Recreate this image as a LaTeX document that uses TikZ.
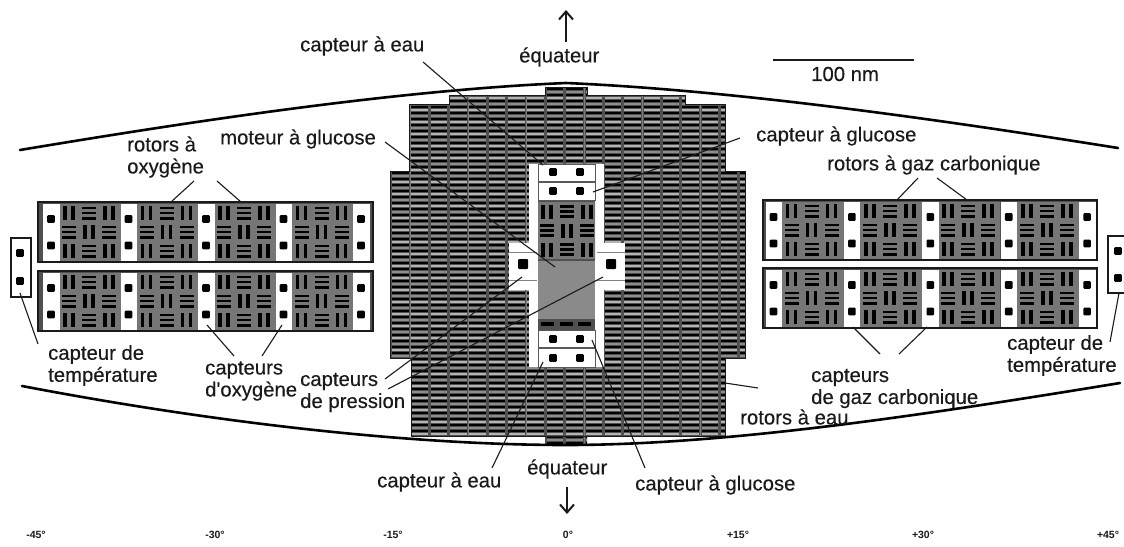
\documentclass[tikz,border=0pt]{standalone}
\usepackage{fontspec}
\setmainfont{Liberation Sans}
\newfontfamily\lblfont{Liberation Sans}[FakeBold=0.25]
\usetikzlibrary{arrows.meta}
\definecolor{ink}{HTML}{1A1A1A}
\definecolor{blockbg}{HTML}{505050}
\definecolor{cellbg}{HTML}{767676}
\definecolor{coreg}{HTML}{8A8A8A}
\definecolor{barA}{HTML}{B4B4B4}
\definecolor{barB}{HTML}{8C8C8C}
\definecolor{gridl}{HTML}{7C7C7C}
\newcommand{\cellV}[2]{%
  \fill[black] ({#1+4},{#2+2.5}) rectangle ({#1+7.8},{#2+16.5});
  \fill[black] ({#1+12},{#2+2.5}) rectangle ({#1+15.8},{#2+16.5});}
\newcommand{\cellH}[2]{%
  \fill[black] ({#1+3},{#2+3}) rectangle ({#1+17},{#2+5.6});
  \fill[black] ({#1+3},{#2+8.2}) rectangle ({#1+17},{#2+10.8});
  \fill[black] ({#1+3},{#2+13.4}) rectangle ({#1+17},{#2+16});}
% three-by-three rotor section: x, y
\newcommand{\rotorsec}[2]{%
  \fill[cellbg] (#1,#2) rectangle ({#1+62},{#2+57});
  \cellV{#1}{#2}\cellH{#1+20}{#2}\cellV{#1+40}{#2}
  \cellH{#1}{#2+19}\cellV{#1+20}{#2+19}\cellH{#1+40}{#2+19}
  \cellV{#1}{#2+38}\cellH{#1+20}{#2+38}\cellV{#1+40}{#2+38}}
\newcommand{\sensdot}[2]{\fill[black,rounded corners=1pt] ({#1-3.8},{#2-3.8}) rectangle ({#1+3.8},{#2+3.8});}
% module: left x, top y, width, first-column offset, period
\newcommand{\modulebox}[5]{%
  \fill[blockbg] (#1,#2) rectangle ({#1+#3},{#2+60});
  \foreach \s in {0,1,2,3}{\rotorsec{#1+#4+16+\s*#5}{#2+1.5}}
  \foreach \s in {0,1,2,3,4}{%
    \fill[white] ({#1+#4+\s*#5},{#2+1.5}) rectangle ({#1+#4+16.5+\s*#5},{#2+58.5});
    \sensdot{#1+#4+8+\s*#5}{#2+17}\sensdot{#1+#4+8+\s*#5}{#2+43.5}}
  \draw[modframe] (#1,#2) rectangle ({#1+#3},{#2+60});}
\tikzset{
  lbl/.style={font=\lblfont\fontsize{20.3}{22}\selectfont,text=ink,inner sep=0pt,anchor=west,align=left},
  deg/.style={font=\fontsize{10.5}{11}\selectfont\bfseries,text=ink,inner sep=0pt},
  lead/.style={draw=ink,line width=1.1pt},
  wall/.style={draw=black,line width=2.6pt,line cap=round},
  modframe/.style={draw=ink,line width=1.4pt},
  bigarrow/.style={draw=ink,line width=1.7pt,-{Straight Barb[length=8pt,width=14pt,line width=2pt]}}
}
\begin{document}
\begin{tikzpicture}[x=1pt,y=-1pt]
\useasboundingbox (0,0) rectangle (1124,546);
\fill[white] (0,0) rectangle (1124,546);
\begin{scope}
\clip (0,0) rectangle (1124,546);

% central block
\begin{scope}
\clip (545,87) -- (587,87) -- (587,95) -- (685,95) -- (685,104) -- (725,104) -- (725,171) -- (745,171)
  -- (745,358) -- (725,358) -- (725,436) -- (587,436) -- (587,444) -- (545,444) -- (545,436) -- (411,436)
  -- (411,358) -- (390,358) -- (390,171) -- (409,171) -- (409,104) -- (449,104) -- (449,95) -- (545,95) -- cycle;
\fill[blockbg] (385,80) rectangle (750,450);
\foreach \c in {0,...,18}{
  \pgfmathsetmacro{\bx}{392+\c*19.35}
  \foreach \r in {0,...,59}{
    \pgfmathsetmacro{\by}{87.5+\r*6}
    \pgfmathtruncatemacro{\odd}{mod(\r,2)}
    \fill[black] (\bx,\by) rectangle ({\bx+16.5},{\by+2.6});
    \ifnum\odd=0
      \fill[barB] (\bx,{\by+3.7}) rectangle ({\bx+16.5},{\by+5});
    \else
      \fill[barA] (\bx,{\by+3.7}) rectangle ({\bx+16.5},{\by+5});
    \fi
  }
}
\foreach \c in {1,4,7,10,13,16}{
  \pgfmathsetmacro{\bx}{391+\c*19.35}
  \draw[gridl,line width=.7pt] (\bx,80) -- (\bx,450);
}
\end{scope}
\draw[ink,line width=.8pt] (390,171) -- (409,171) -- (409,104) -- (449,104) -- (449,95) -- (545,95) -- (545,87) -- (587,87) -- (587,95) -- (685,95) -- (685,104) -- (725,104) -- (725,171) -- (745,171) -- (745,358) -- (725,358) -- (725,436) -- (411,436) -- (411,358) -- (390,358) -- cycle;

% central slot and cross
\fill[white] (529,164) rectangle (604,367);
\fill[white] (509,243) rectangle (625,290);
\draw[gray,line width=.8pt] (509,252) -- (537,252) (509,280) -- (537,280) (597,252) -- (625,252) (597,280) -- (625,280);
\fill[blockbg] (538,200) rectangle (595,330);
\begin{scope}
\clip (538,200) rectangle (595,262);
\rotorsec{537}{202}
\end{scope}
\fill[coreg] (538,261) rectangle (595,319);
\foreach \k in {0,1,2}{\fill[black] ({541+\k*18.5},322) rectangle ({554+\k*18.5},325.5);}
\draw[gray!70!black,line width=1pt] (538.5,164) rectangle (595.5,200);
\draw[gray!70!black,line width=1pt] (538.5,330) rectangle (595.5,367);
\draw[gray!70!black,line width=2.4pt] (538.5,182) -- (595.5,182) (538.5,348) -- (595.5,348);
\foreach \p in {553,580}{\sensdot{\p}{172}\sensdot{\p}{191}\sensdot{\p}{339}\sensdot{\p}{358}}
\fill[black,rounded corners=1pt] (518,259) rectangle (528,269);
\fill[black,rounded corners=1pt] (606,259) rectangle (616,269);

% side modules
\modulebox{38}{202}{335}{5}{77.5}
\modulebox{38}{271}{335}{5}{77.5}
\modulebox{763}{200}{334}{2.5}{78.4}
\modulebox{763}{268}{334}{2.5}{78.4}

% temperature sensors
\fill[white] (11,238) rectangle (31,297);
\draw[modframe] (11,238) rectangle (31,297);
\sensdot{20}{253}\sensdot{20}{281}
\draw[modframe] (1130,236) -- (1108,236) -- (1108,293) -- (1130,293);
\sensdot{1118}{251}\sensdot{1118}{278}

% membrane walls
\draw[wall] (20,150) .. controls (200,120) and (400,90) .. (566,83) .. controls (730,90) and (930,118) .. (1118,148);
\draw[wall] (22,386) .. controls (200,420) and (400,445) .. (566,445) .. controls (730,445) and (930,414) .. (1120,383);

% labels
\node[lbl] (eauT) at (300,46) {capteur à eau};
\node[lbl] (equT) at (519,57) {équateur};
\node[lbl] (nm) at (811,74) {100 nm};
\node[lbl] (motG) at (220,139) {moteur à glucose};
\node[lbl] (gluT) at (756,136) {capteur à glucose};
\node[lbl] (rotO) at (127,157) {rotors à\\oxygène};
\node[lbl] (rotC) at (827,165) {rotors à gaz carbonique};
\node[lbl] (tempL) at (48,365.5) {capteur de\\température};
\node[lbl] (capO) at (205,381) {capteurs\\d'oxygène};
\node[lbl] (capP) at (300,392.5) {capteurs\\de pression};
\node[lbl] (capC) at (811,388.5) {capteurs\\de gaz carbonique};
\node[lbl] (rotE) at (740,417) {rotors à eau};
\node[lbl] (tempR) at (1007,355.5) {capteur de\\température};
\node[lbl] (equB) at (527,469) {équateur};
\node[lbl] (eauB) at (377,482) {capteur à eau};
\node[lbl] (gluB) at (635,485) {capteur à glucose};
\foreach \nm/\xx/\tt in {da/36/-45°,db/215/-30°,dc/393/-15°,dd/568/0°,de/738/+15°,df/923/+30°,dg/1108/+45°}{
  \node[deg] (\nm) at (\xx,535) {\tt};
}

% connector ends
\coordinate (a1) at (423,62);   \coordinate (a2) at (543,165);
\coordinate (b1) at (385,142);  \coordinate (b2) at (555,267);
\coordinate (c1) at (740,138);  \coordinate (c2) at (593,192);
\coordinate (d1) at (194,181);  \coordinate (d2) at (171,202);
\coordinate (e1) at (217,181);  \coordinate (e2) at (241,202);
\coordinate (f1) at (918,178);  \coordinate (f2) at (897,200);
\coordinate (g1) at (937,178);  \coordinate (g2) at (967,200);
\coordinate (h1) at (20,293);   \coordinate (h2) at (38,344);
\coordinate (i1) at (207,325);  \coordinate (i2) at (234,356);
\coordinate (j1) at (282,325);  \coordinate (j2) at (262,356);
\coordinate (k1) at (385,379);  \coordinate (k2) at (522,277);
\coordinate (l1) at (388,389);  \coordinate (l2) at (603,277);
\coordinate (m1) at (853,327);  \coordinate (m2) at (880,354);
\coordinate (n1) at (927,327);  \coordinate (n2) at (899,354);
\coordinate (o1) at (1119,293); \coordinate (o2) at (1110,342);
\coordinate (p1) at (758,388);  \coordinate (p2) at (725,383);
\coordinate (q1) at (492,468);  \coordinate (q2) at (543,362);
\coordinate (r1) at (645,468);  \coordinate (r2) at (592,340);
\foreach \u in {a,b,c,d,e,f,g,h,i,j,k,l,m,n,o,p,q,r}{\draw[lead] (\u1) -- (\u2);}

% arrows and scale bar
\coordinate (upA) at (566,42);  \coordinate (upB) at (566,10);
\coordinate (dnA) at (567,487); \coordinate (dnB) at (567,514);
\draw[bigarrow] (upA) -- (upB);
\draw[bigarrow] (dnA) -- (dnB);
\coordinate (sb1) at (773,60);  \coordinate (sb2) at (914,60);
\draw[ink,line width=1.2pt] (sb1) -- (sb2);
\end{scope}
\end{tikzpicture}
\end{document}
